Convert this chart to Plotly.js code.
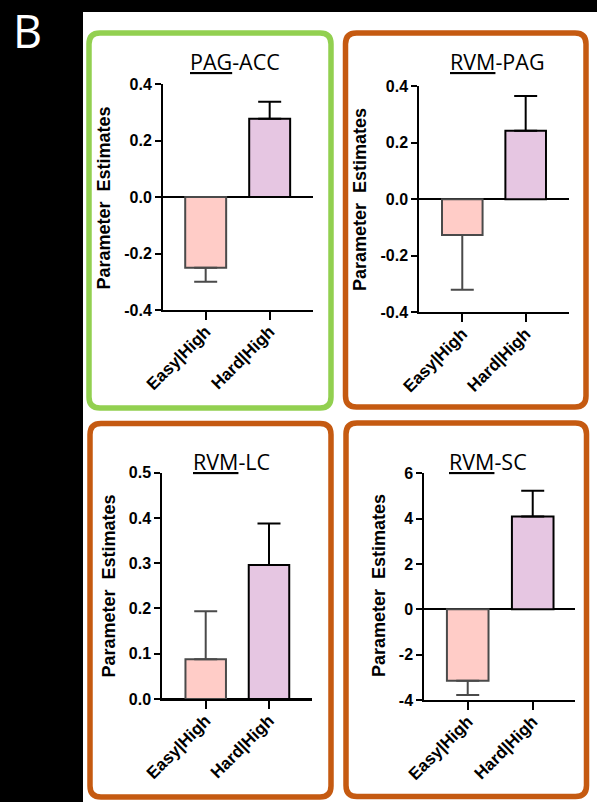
<!DOCTYPE html>
<html>
<head>
<meta charset="utf-8">
<script src="https://cdn.plot.ly/plotly-3.0.1.min.js"></script>
<style>
  html, body { margin: 0; padding: 0; background: #000; }
  #chart { width: 597px; height: 802px; }
</style>
</head>
<body>
<div id="chart"></div>
<script>
// ---------------- DATA ----------------
const categories = ['Easy|High', 'Hard|High'];

const pagAccMean = [-0.25, 0.277];
const pagAccSem  = [0.05, 0.06];

const rvmPagMean = [-0.127, 0.242];
const rvmPagSem  = [0.193, 0.123];

const rvmLcMean = [0.088, 0.296];
const rvmLcSem  = [0.106, 0.092];

const rvmScMean = [-3.15, 4.09];
const rvmScSem  = [0.63, 1.14];

const titleUnderlined = ['PAG', 'RVM', 'RVM', 'RVM'];
const titleRest       = ['-ACC', '-PAG', '-LC', '-SC'];

const yTickVals12  = [-0.4, -0.2, 0, 0.2, 0.4];
const yTickText12  = ['-0.4', '-0.2', '0.0', '0.2', '0.4'];
const yTickVals3   = [0, 0.1, 0.2, 0.3, 0.4, 0.5];
const yTickText3   = ['0.0', '0.1', '0.2', '0.3', '0.4', '0.5'];
const yTickVals4   = [-4, -2, 0, 2, 4, 6];
const yTickText4   = ['-4', '-2', '0', '2', '4', '6'];

const yAxisLabel = 'Parameter\u00A0 Estimates';
const panelLetter = 'B';

// ---------------- STYLE / GEOMETRY ----------------
const W = 597, H = 802;
const px = x => x / W;
const py = y => 1 - y / H;

const fillColors = ['#FFCCC7', '#E6C6E2'];
const lineColors = ['#4a4a4a', '#000000'];

const panels = [
  { mean: pagAccMean, sem: pagAccSem, x0: 163, x1: 313, y0: 84, y1: 310, xr: [-0.667, 1.677], yr: [-0.4, 0.4],
    tv: yTickVals12, tt: yTickText12, border: '#92D050', box: [89, 33, 331, 408],
    title: [235, 62], ytitle: [103.5, 198] },
  { mean: rvmPagMean, sem: rvmPagSem, x0: 419.3, x1: 569.3, y0: 86, y1: 312.3, xr: [-0.678, 1.688], yr: [-0.4, 0.4],
    tv: yTickVals12, tt: yTickText12, border: '#C55A11', box: [345.5, 33, 586, 407],
    title: [497, 62], ytitle: [360, 199] },
  { mean: rvmLcMean, sem: rvmLcSem, x0: 162.3, x1: 311.7, y0: 472.7, y1: 699, xr: [-0.686, 1.675], yr: [0, 0.5],
    tv: yTickVals3, tt: yTickText3, border: '#C55A11', box: [90, 423.5, 331, 797],
    title: [231, 461], ytitle: [108.5, 586] },
  { mean: rvmScMean, sem: rvmScSem, x0: 424.3, x1: 575.3, y0: 473.3, y1: 700, xr: [-0.668, 1.655], yr: [-4, 6],
    tv: yTickVals4, tt: yTickText4, border: '#C55A11', box: [346, 423, 586.5, 796.5],
    title: [488, 461], ytitle: [379, 586] }
];

const yTickFont = { family: 'Liberation Sans, Arial, sans-serif', size: 16, color: '#000', weight: 'bold' };
const xTickFont = { family: 'Liberation Sans, Arial, sans-serif', size: 17, color: '#000', weight: 'bold' };

const traces = [];
const layout = {
  width: W, height: H,
  margin: { l: 0, r: 0, t: 0, b: 0, pad: 0 },
  paper_bgcolor: '#000',
  plot_bgcolor: 'rgba(0,0,0,0)',
  showlegend: false,
  barmode: 'overlay',
  shapes: [],
  annotations: []
};

// white background area
layout.shapes.push({ type: 'rect', xref: 'paper', yref: 'paper', layer: 'below',
  x0: px(83), x1: px(597), y0: py(802), y1: py(12), fillcolor: '#fff', line: { width: 0 } });

function roundedRect(b, r) {
  const [l, t, rr, bb] = b;
  const P = (x, y) => px(x) + ',' + py(y);
  return 'M' + P(l + r, t) + ' L' + P(rr - r, t) + ' Q' + P(rr, t) + ' ' + P(rr, t + r) +
    ' L' + P(rr, bb - r) + ' Q' + P(rr, bb) + ' ' + P(rr - r, bb) +
    ' L' + P(l + r, bb) + ' Q' + P(l, bb) + ' ' + P(l, bb - r) +
    ' L' + P(l, t + r) + ' Q' + P(l, t) + ' ' + P(l + r, t) + ' Z';
}

panels.forEach((p, k) => {
  const n = k + 1;
  const xa = n === 1 ? 'x' : 'x' + n;
  const ya = n === 1 ? 'y' : 'y' + n;
  const xKey = n === 1 ? 'xaxis' : 'xaxis' + n;
  const yKey = n === 1 ? 'yaxis' : 'yaxis' + n;

  categories.forEach((c, i) => {
    const v = p.mean[i];
    const e = p.sem[i];
    traces.push({
      type: 'bar', x: [c], y: [v], xaxis: xa, yaxis: ya, width: 0.64,
      marker: { color: fillColors[i], line: { color: lineColors[i], width: 2 } },
      error_y: { type: 'data', symmetric: false,
        array: [v >= 0 ? e : 0], arrayminus: [v < 0 ? e : 0],
        color: lineColors[i], thickness: 2, width: 11.5 },
      hoverinfo: 'none'
    });
  });

  layout[xKey] = {
    domain: [px(p.x0), px(p.x1)], anchor: ya, type: 'category',
    categoryorder: 'array', categoryarray: categories, range: p.xr,
    showline: true, linecolor: '#000', linewidth: 2, mirror: false,
    ticks: 'outside', ticklen: 8, tickwidth: 2, tickcolor: '#000',
    tickangle: -45, tickfont: xTickFont, ticklabelstandoff: -5,
    showgrid: false, zeroline: false, fixedrange: true
  };
  layout[yKey] = {
    domain: [py(p.y1), py(p.y0)], anchor: xa, range: p.yr,
    tickmode: 'array', tickvals: p.tv, ticktext: p.tt,
    showline: true, linecolor: '#000', linewidth: 2,
    ticks: 'outside', ticklen: 6, tickwidth: 2, tickcolor: '#000',
    tickfont: yTickFont, showgrid: false,
    zeroline: true, zerolinecolor: '#000', zerolinewidth: 2, fixedrange: true
  };

  layout.shapes.push({ type: 'path', xref: 'paper', yref: 'paper', layer: 'below',
    path: roundedRect(p.box, 11), line: { color: p.border, width: 5.5 }, fillcolor: 'rgba(0,0,0,0)' });

  layout.annotations.push({
    xref: 'paper', yref: 'paper', x: px(p.title[0]), y: py(p.title[1]),
    xanchor: 'center', yanchor: 'middle', showarrow: false,
    text: '<u>' + titleUnderlined[k] + '</u>' + titleRest[k],
    font: { family: 'Open Sans, Noto Sans, sans-serif', size: 21.5, color: '#000' }
  });
  layout.annotations.push({
    xref: 'paper', yref: 'paper', x: px(p.ytitle[0]), y: py(p.ytitle[1]),
    xanchor: 'center', yanchor: 'middle', showarrow: false, textangle: -90,
    text: yAxisLabel,
    font: { family: 'Liberation Sans, Arial, sans-serif', size: 18, color: '#000', weight: 'bold' }
  });
});

layout.annotations.push({
  xref: 'paper', yref: 'paper', x: px(27.5), y: py(31), xanchor: 'center', yanchor: 'middle',
  showarrow: false, text: panelLetter,
  font: { family: 'Open Sans, Noto Sans, sans-serif', size: 45, color: '#fff' }
});

Plotly.newPlot('chart', traces, layout, { staticPlot: true, displayModeBar: false });
</script>
</body>
</html>
